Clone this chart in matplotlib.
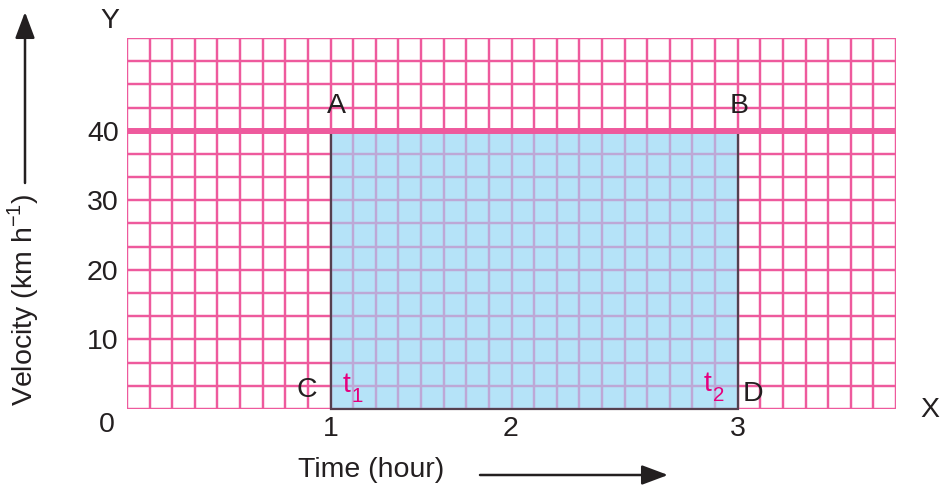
import matplotlib
matplotlib.use("Agg")
import matplotlib.pyplot as plt
import numpy as np
from matplotlib.patches import Rectangle

plt.rcParams['font.family'] = ['Liberation Sans', 'DejaVu Sans']
plt.rcParams['mathtext.fontset'] = 'custom'
plt.rcParams['mathtext.rm'] = 'Liberation Sans'

# Data
time_hours = [1, 3]
velocity_kmh = [40, 40]
x_max = 34 / 9
y_max = 160 / 3
x_minor_step = 1 / 9
y_minor_step = 10 / 3
y_ticks = [10, 20, 30, 40]
y_tick_labels = ['10', '20', '30', '40']
x_tick_pos = [1, 1.885, 3]
x_tick_labels = ['1', '2', '3']
point_labels = ['A', 'B', 'C', 'D']

PINK = '#EE5A9D'
LAV = '#BDA8D6'
BLUE = '#B5E3F8'
TXT = '#231F20'
MAG = '#E5007E'

fig = plt.figure(figsize=(9.43, 4.86), dpi=100)
ax = fig.add_axes([127/943, 1 - 409/486, (896-127)/943, (409-38)/486])
ax.set_xlim(0, x_max)
ax.set_ylim(0, y_max)
for s in ax.spines.values():
    s.set_visible(False)

xs = np.arange(0, 35) * x_minor_step
ys = np.arange(0, 17) * y_minor_step
lw = 1.75
ax.vlines(xs, 0, y_max, color=PINK, lw=lw, zorder=1)
ax.hlines(ys, 0, x_max, color=PINK, lw=lw, zorder=1)

x0, x1 = time_hours
v = velocity_kmh[0]
rect = Rectangle((x0, 0), x1 - x0, v, facecolor=BLUE, edgecolor='none', zorder=2)
ax.add_patch(rect)
clip = Rectangle((x0, 0), x1 - x0, v, transform=ax.transData)
vl = ax.vlines(xs, 0, y_max, color=LAV, lw=lw, zorder=3)
hl = ax.hlines(ys, 0, x_max, color=LAV, lw=lw, zorder=3)
vl.set_clip_path(clip)
hl.set_clip_path(clip)

# rectangle edges
ax.plot([x0, x0, x1, x1], [v, 0, 0, v], color='#55404F', lw=1.6, zorder=4,
        solid_joinstyle='miter', clip_on=False)
# velocity line
ax.plot([0, x_max], velocity_kmh[:1] * 2, color=PINK, lw=4.3, zorder=5,
        solid_capstyle='butt')

fs = 20.5
ax.set_yticks(y_ticks)
ax.set_yticklabels(y_tick_labels)
ax.set_xticks(x_tick_pos)
ax.set_xticklabels(x_tick_labels)
ax.tick_params(length=0, labelsize=fs, colors=TXT)
ax.tick_params(axis='y', pad=6)
ax.tick_params(axis='x', pad=5)

ax.text(-0.1, -2.3, '0', fontsize=fs, color=TXT, ha='center', va='center')
fig.text(110/943, 1 - 21/486, 'Y', fontsize=fs, color=TXT, ha='center', va='center')
fig.text(930/943, 1 - 410/486, 'X', fontsize=fs, color=TXT, ha='center', va='center')

# point labels
ax.annotate(point_labels[0], (x0, v), xytext=(4, 18), textcoords='offset points',
            fontsize=fs, color=TXT, ha='center', va='center')
ax.annotate(point_labels[1], (x1, v), xytext=(1, 18), textcoords='offset points',
            fontsize=fs, color=TXT, ha='center', va='center')
ax.annotate(point_labels[2], (x0, 0), xytext=(-17, 14), textcoords='offset points',
            fontsize=fs, color=TXT, ha='center', va='center')
ax.annotate(point_labels[3], (x1, 0), xytext=(11, 11), textcoords='offset points',
            fontsize=fs, color=TXT, ha='center', va='center')
# t1, t2 with subscripts
ax.annotate('t', (x0, 0), xytext=(11.5, 17), textcoords='offset points',
            fontsize=fs, color=MAG, ha='center', va='center')
ax.annotate('1', (x0, 0), xytext=(19.0, 9), textcoords='offset points',
            fontsize=fs * 0.72, color=MAG, ha='center', va='center')
ax.annotate('t', (x1, 0), xytext=(-21.5, 18), textcoords='offset points',
            fontsize=fs, color=MAG, ha='center', va='center')
ax.annotate('2', (x1, 0), xytext=(-14.0, 10), textcoords='offset points',
            fontsize=fs * 0.72, color=MAG, ha='center', va='center')

# axis titles with arrows
fig.text(23/943, 1 - 300/486, 'Velocity (km h$^{\\mathregular{-1}}$)', rotation=90,
         fontsize=fs, color=TXT, ha='center', va='center')
fig.text(371/943, 1 - 470/486, 'Time (hour)', fontsize=fs, color=TXT,
         ha='center', va='center')
fig.add_artist(matplotlib.patches.FancyArrowPatch(
    (480/943, 1 - 475/486), (668/943, 1 - 475/486), transform=fig.transFigure,
    arrowstyle='-|>,head_length=0.8,head_width=0.3', mutation_scale=20,
    color=TXT, lw=1.8, shrinkA=0, shrinkB=0))
fig.add_artist(matplotlib.patches.FancyArrowPatch(
    (25/943, 1 - 183/486), (25/943, 1 - 12/486), transform=fig.transFigure,
    arrowstyle='-|>,head_length=0.8,head_width=0.3', mutation_scale=20,
    color=TXT, lw=1.8, shrinkA=0, shrinkB=0))

fig.savefig('out.png', dpi=100)
